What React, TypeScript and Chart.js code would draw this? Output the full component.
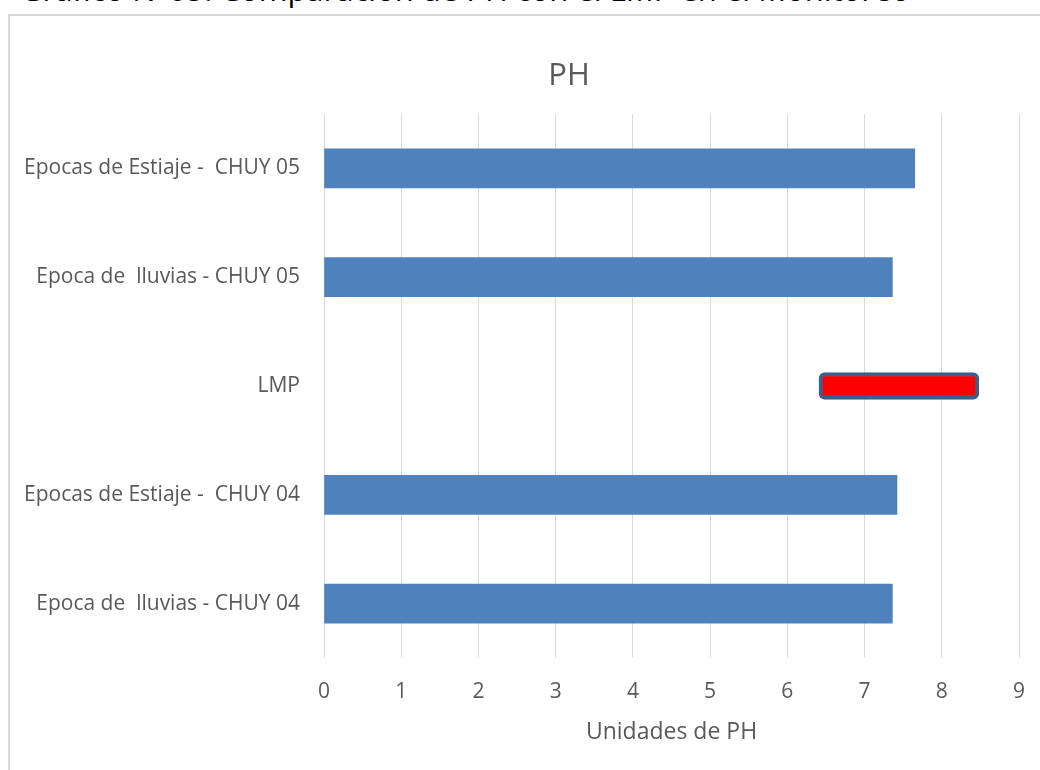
import React, { useEffect, useRef } from 'react';
import { Chart, registerables } from 'chart.js';

Chart.register(...registerables);

const categories: string[] = [
  'Epocas de Estiaje -  CHUY 05',
  'Epoca de  lluvias - CHUY 05',
  'LMP',
  'Epocas de Estiaje -  CHUY 04',
  'Epoca de  lluvias - CHUY 04',
];
const phValues: (number | null)[] = [7.65, 7.36, null, 7.42, 7.36];
const lmpRange: ([number, number] | null)[] = [null, null, [6.41, 8.48], null, null];
const xMin = 0;
const xMax = 9;
const xStep = 1;
const chartTitle = 'PH';
const xAxisTitle = 'Unidades de PH';
const pageTitle = 'Gráfico N°05: Comparación de PH con el LMP en el Monitoreo';

const FONT = "'Open Sans', sans-serif";
const GRAY = '#595959';

const titlePlugin = {
  id: 'offsetTitle',
  afterDraw(chart: any) {
    const ctx = chart.ctx;
    ctx.save();
    ctx.font = `31px ${FONT}`;
    ctx.fillStyle = GRAY;
    ctx.textAlign = 'center';
    ctx.textBaseline = 'middle';
    ctx.fillText(chartTitle, 569, 76);
    ctx.restore();
  },
};

export default function App() {
  const ref = useRef<HTMLCanvasElement | null>(null);

  useEffect(() => {
    if (!ref.current) return;
    const chart = new Chart(ref.current, {
      type: 'bar',
      data: {
        labels: categories,
        datasets: [
          {
            label: 'PH',
            data: phValues as any,
            backgroundColor: '#4F81BD',
            borderWidth: 0,
            barThickness: 39,
            grouped: false,
          } as any,
          {
            label: 'LMP',
            data: lmpRange as any,
            backgroundColor: '#FF0000',
            borderColor: '#3A5F8B',
            borderWidth: 4,
            borderRadius: 6,
            borderSkipped: false,
            barThickness: 27,
            grouped: false,
          } as any,
        ],
      },
      options: {
        indexAxis: 'y',
        responsive: false,
        animation: false,
        layout: { padding: { top: 114, right: 21, bottom: 24, left: 0 } },
        plugins: {
          legend: { display: false },
          title: { display: false },
          tooltip: { enabled: false },
        },
        scales: {
          x: {
            type: 'linear',
            min: xMin,
            max: xMax,
            ticks: {
              stepSize: xStep,
              color: GRAY,
              font: { family: FONT, size: 21 },
              padding: 21,
            },
            grid: { color: '#D9D9D9', lineWidth: 1, drawTicks: false },
            border: { display: false },
            title: {
              display: true,
              text: xAxisTitle,
              color: GRAY,
              font: { family: FONT, size: 23 },
              padding: { top: 0, bottom: 0 },
            },
            afterFit(scale: any) {
              scale.height = 88;
              scale.paddingRight = 0;
              scale.paddingLeft = 0;
            },
          },
          y: {
            type: 'category',
            ticks: {
              color: GRAY,
              font: { family: FONT, size: 21 },
              padding: 24,
            },
            grid: { display: false, drawTicks: false },
            border: { display: false },
            afterFit(scale: any) {
              scale.width = 324;
            },
          },
        },
      },
      plugins: [titlePlugin],
    } as any);
    return () => chart.destroy();
  }, []);

  return (
    <div
      style={{
        position: 'absolute',
        left: 0,
        top: 0,
        width: 1040,
        height: 770,
        overflow: 'hidden',
        background: '#fff',
      }}
    >
      <div
        style={{
          position: 'absolute',
          left: 20,
          top: -29,
          fontFamily: FONT,
          fontSize: 31,
          lineHeight: '36px',
          whiteSpace: 'nowrap',
          color: '#000',
        }}
      >
        {pageTitle}
      </div>
      <div
        style={{
          position: 'absolute',
          left: 8,
          top: 14,
          width: 1100,
          height: 800,
          border: '2px solid #D9D9D9',
          boxSizing: 'border-box',
        }}
      />
      <canvas
        ref={ref}
        width={1040}
        height={770}
        style={{ position: 'absolute', left: 0, top: 0 }}
      />
    </div>
  );
}
